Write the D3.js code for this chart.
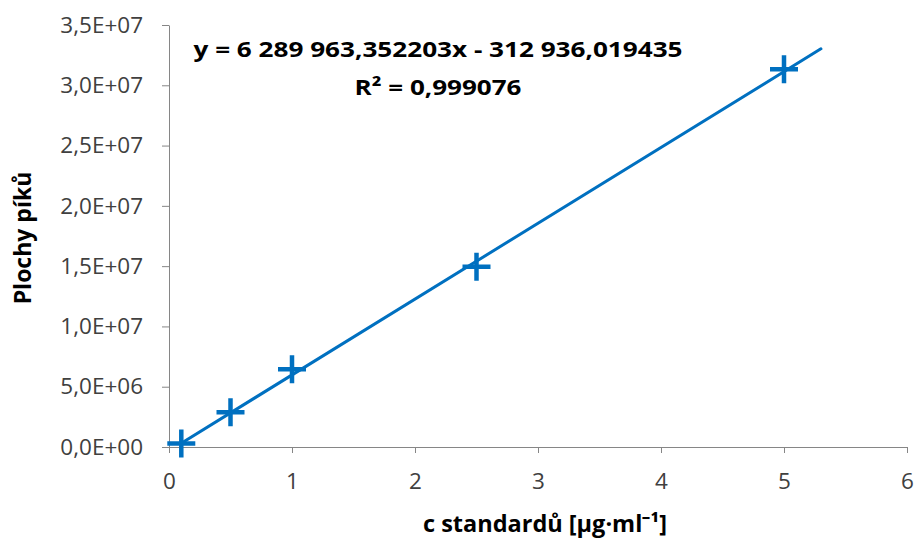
<!DOCTYPE html>
<html>
<head>
<meta charset="utf-8">
<script src="https://cdn.jsdelivr.net/npm/d3@7"></script>
<style>
  body { margin: 0; background: #fff; }
  svg text { font-family: "Open Sans", sans-serif; }
</style>
</head>
<body>
<div id="chart"></div>
<script>
// calibration data
var concentrations = [0.1, 0.5, 1, 2.5, 5];
var peakAreas = [0.3e6, 2.88e6, 6.44e6, 14.95e6, 31.34e6];
var xTicks = [0, 1, 2, 3, 4, 5, 6];
var yTicks = [0, 5e6, 1e7, 1.5e7, 2e7, 2.5e7, 3e7, 3.5e7];
var slope = 6289963.352203;
var intercept = -312936.019435;
var forward = 0.3;   // trendline forecast forward

var width = 915, height = 544;
var blue = '#0070c0';
var axisColor = '#868686';

var svg = d3.select('#chart').append('svg')
            .attr('width', width)
            .attr('height', height);

var x = d3.scaleLinear().domain([0, 6]).range([169, 907]);
var y = d3.scaleLinear().domain([0, 3.5e7]).range([447, 25]);

function sciFmt(v) {
  var s = v.toExponential(1).split('e');
  var exp = parseInt(s[1]);
  var e = (exp < 0 ? '-' : '+') + (Math.abs(exp) < 10 ? '0' : '') + Math.abs(exp);
  return s[0].replace('.', ',') + 'E' + e;
}

// axes
var yAxis = svg.append('g')
  .attr('transform', 'translate(' + x(0) + ',0)')
  .call(d3.axisLeft(y).tickValues(yTicks).tickFormat(sciFmt).tickSizeInner(7).tickSizeOuter(0).tickPadding(19));
var xAxis = svg.append('g')
  .attr('transform', 'translate(0,' + y(0) + ')')
  .call(d3.axisBottom(x).tickValues(xTicks).tickFormat(d3.format('d')).tickSizeInner(6).tickSizeOuter(0).tickPadding(20));

[xAxis, yAxis].forEach(function (g) {
  g.select('.domain').attr('stroke', axisColor);
  g.selectAll('.tick line').attr('stroke', axisColor);
  g.selectAll('.tick text')
   .attr('fill', '#404040')
   .style('font-size', '22.5px')
   .style('font-family', '"Open Sans", sans-serif');
});

// trendline
var x0 = d3.min(concentrations), x1 = d3.max(concentrations) + forward;
var line = d3.line()
  .x(function (d) { return x(d); })
  .y(function (d) { return y(slope * d + intercept); });
svg.append('path')
  .datum([x0, x1])
  .attr('d', line)
  .attr('fill', 'none')
  .attr('stroke', blue)
  .attr('stroke-width', 3)
  .attr('stroke-linecap', 'round');

// markers (plus signs)
var pts = concentrations.map(function (c, i) { return { x: c, y: peakAreas[i] }; });
svg.selectAll('path.pt')
  .data(pts)
  .enter()
  .append('path')
  .attr('class', 'pt')
  .attr('transform', function (d) { return 'translate(' + x(d.x) + ',' + y(d.y) + ')'; })
  .attr('d', 'M-14,0H14M0,-14V14')
  .attr('stroke', blue)
  .attr('stroke-width', 4.5)
  .attr('fill', 'none');

// equation
svg.append('text')
  .attr('x', 438).attr('y', 57)
  .attr('text-anchor', 'middle')
  .attr('textLength', 489).attr('lengthAdjust', 'spacingAndGlyphs')
  .style('font-size', '22px').style('font-weight', 'bold')
  .attr('fill', '#000')
  .text('y = 6 289 963,352203x - 312 936,019435');
svg.append('text')
  .attr('x', 438).attr('y', 95)
  .attr('text-anchor', 'middle')
  .attr('textLength', 167).attr('lengthAdjust', 'spacingAndGlyphs')
  .style('font-size', '22px').style('font-weight', 'bold')
  .attr('fill', '#000')
  .text('R² = 0,999076');

// axis titles
svg.append('text')
  .attr('transform', 'translate(31,238) rotate(-90)')
  .attr('text-anchor', 'middle')
  .style('font-size', '23px').style('font-weight', 'bold')
  .text('Plochy píků');
svg.append('text')
  .attr('x', 545).attr('y', 532)
  .attr('text-anchor', 'middle')
  .style('font-size', '23.5px').style('font-weight', 'bold')
  .text('c standardů [µg·ml⁻¹]');
</script>
</body>
</html>
